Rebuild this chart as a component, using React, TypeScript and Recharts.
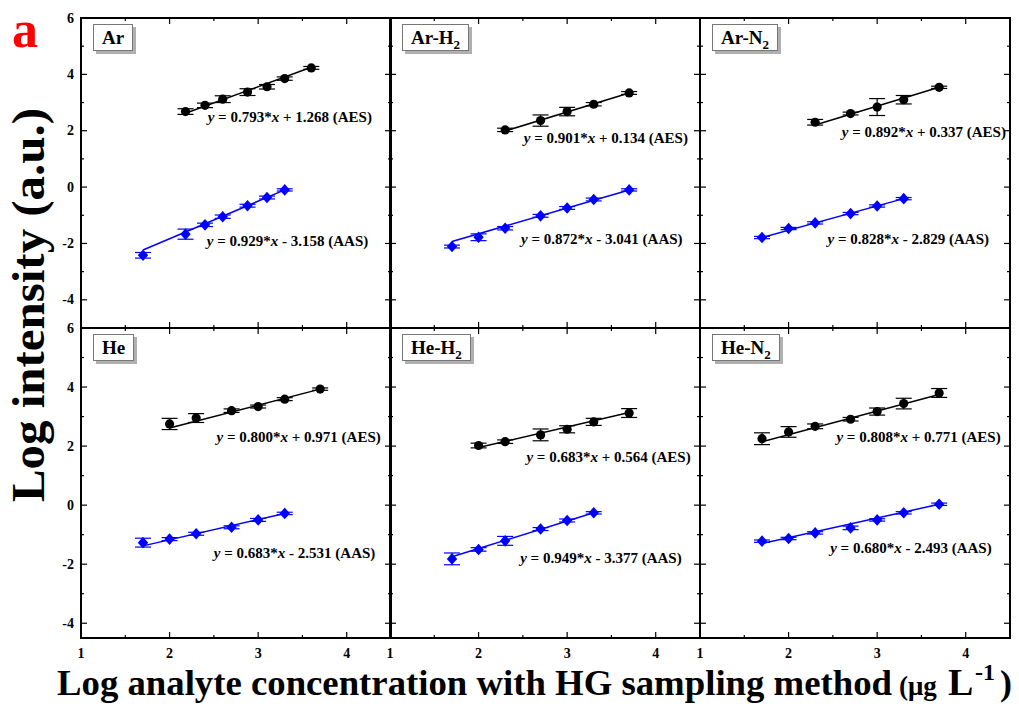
import React from 'react'
import { ComposedChart, Scatter, Line, XAxis, YAxis, ErrorBar, ReferenceArea, ReferenceDot } from 'recharts'

const FONT = '"Liberation Serif", "Times New Roman", serif'
const BLUE = '#0000ff'

// tick values
const xTicks = [1, 1.5, 2, 2.5, 3, 3.5, 4, 4.5]
const yTicksTop = [-5, -4, -3, -2, -1, 0, 1, 2, 3, 4, 5, 6]
const yTicksBottom = [-4, -3, -2, -1, 0, 1, 2, 3, 4, 5, 6]
const xDomain = [1, 4.5]
const yDomainTop = [-5, 6]
const yDomainBottom = [-4.5, 6]

// [log conc, log intensity, error]
const arAes = [[2.18, 2.68, 0.1], [2.4, 2.9, 0.08], [2.6, 3.12, 0.12], [2.88, 3.37, 0.12], [3.1, 3.56, 0.08], [3.3, 3.85, 0.06], [3.6, 4.23, 0.05]]
const arAas = [[1.7, -2.42, 0.1], [2.18, -1.67, 0.18], [2.4, -1.34, 0.06], [2.6, -1.05, 0.06], [2.88, -0.66, 0.05], [3.1, -0.37, 0.05], [3.3, -0.1, 0.04]]
const arAesFit = [[2.18, 2.62], [3.6, 4.25]]
const arAasFit = [[1.7, -2.23], [3.3, -0.1]]

const arH2Aes = [[2.3, 2.03, 0.06], [2.7, 2.36, 0.2], [3.0, 2.68, 0.15], [3.3, 2.94, 0.06], [3.7, 3.34, 0.05]]
const arH2Aas = [[1.7, -2.11, 0.05], [2.0, -1.78, 0.12], [2.3, -1.46, 0.06], [2.7, -1.02, 0.05], [3.0, -0.74, 0.05], [3.3, -0.44, 0.05], [3.7, -0.1, 0.04]]
const arH2AesFit = [[2.3, 1.99], [3.7, 3.34]]
const arH2AasFit = [[1.7, -1.93], [3.7, -0.1]]

const arN2Aes = [[2.3, 2.3, 0.1], [2.7, 2.61, 0.05], [3.0, 2.84, 0.3], [3.3, 3.1, 0.15], [3.7, 3.54, 0.04]]
const arN2Aas = [[1.7, -1.79, 0.04], [2.0, -1.47, 0.04], [2.3, -1.27, 0.04], [2.7, -0.94, 0.04], [3.0, -0.67, 0.04], [3.3, -0.41, 0.04]]
const arN2AesFit = [[2.3, 2.2], [3.7, 3.54]]
const arN2AasFit = [[1.7, -1.79], [3.3, -0.41]]

const heAes = [[2.0, 2.75, 0.19], [2.3, 2.95, 0.15], [2.7, 3.2, 0.06], [3.0, 3.34, 0.05], [3.3, 3.59, 0.05], [3.7, 3.93, 0.04]]
const heAas = [[1.7, -1.27, 0.15], [2.0, -1.15, 0.05], [2.3, -0.97, 0.05], [2.7, -0.75, 0.05], [3.0, -0.5, 0.05], [3.3, -0.28, 0.04]]
const heAesFit = [[2.0, 2.61], [3.7, 3.93]]
const heAasFit = [[1.7, -1.38], [3.3, -0.28]]

const heH2Aes = [[2.0, 2.02, 0.08], [2.3, 2.15, 0.06], [2.7, 2.38, 0.2], [3.0, 2.57, 0.12], [3.3, 2.82, 0.12], [3.7, 3.12, 0.15]]
const heH2Aas = [[1.7, -1.82, 0.2], [2.0, -1.5, 0.06], [2.3, -1.21, 0.15], [2.7, -0.81, 0.05], [3.0, -0.52, 0.05], [3.3, -0.26, 0.04]]
const heH2AesFit = [[2.0, 1.95], [3.7, 3.14]]
const heH2AasFit = [[1.7, -1.75], [3.3, -0.26]]

const heN2Aes = [[1.7, 2.25, 0.2], [2.0, 2.48, 0.18], [2.3, 2.67, 0.08], [2.7, 2.91, 0.06], [3.0, 3.17, 0.12], [3.3, 3.44, 0.18], [3.7, 3.8, 0.15]]
const heN2Aas = [[1.7, -1.22, 0.04], [2.0, -1.13, 0.04], [2.3, -0.94, 0.04], [2.7, -0.77, 0.06], [3.0, -0.5, 0.04], [3.3, -0.26, 0.04], [3.7, 0.03, 0.04]]
const heN2AesFit = [[1.7, 2.15], [3.7, 3.75]]
const heN2AasFit = [[1.7, -1.3], [3.7, 0.03]]

// regression equations: [AES slope, AES intercept, AAS slope, AAS intercept]
const arEq = ['0.793', '+ 1.268', '0.929', '- 3.158']
const arH2Eq = ['0.901', '+ 0.134', '0.872', '- 3.041']
const arN2Eq = ['0.892', '+ 0.337', '0.828', '- 2.829']
const heEq = ['0.800', '+ 0.971', '0.683', '- 2.531']
const heH2Eq = ['0.683', '+ 0.564', '0.949', '- 3.377']
const heN2Eq = ['0.808', '+ 0.771', '0.680', '- 2.493']

const panelGas = ['Ar', 'Ar-H', 'Ar-N', 'He', 'He-H', 'He-N']
const panelSub = ['', '2', '2', '', '2', '2']

// layout
const COL_LEFT = [81, 390, 700]
const ROW_TOP = [18, 328]
const PW = 310
const PH = 310
const AXW = 60
const TOPM = 14
// where the equation text starts, in data units
const eqAnchors = [
  [[2.43, 2.49], [2.42, -1.9]],
  [[2.51, 1.73], [2.48, -1.85]],
  [[2.6, 1.97], [2.44, -1.85]],
  [[2.53, 2.32], [2.5, -1.61]],
  [[2.54, 1.64], [2.47, -1.8]],
  [[2.54, 2.32], [2.47, -1.44]],
]

const pts = (a: number[][]) => a.map(([x, y, err]) => ({ x, y, err: err ?? 0 }))

const panels = [
  { aes: arAes, aas: arAas, aesFit: arAesFit, aasFit: arAasFit, eq: arEq },
  { aes: arH2Aes, aas: arH2Aas, aesFit: arH2AesFit, aasFit: arH2AasFit, eq: arH2Eq },
  { aes: arN2Aes, aas: arN2Aas, aesFit: arN2AesFit, aasFit: arN2AasFit, eq: arN2Eq },
  { aes: heAes, aas: heAas, aesFit: heAesFit, aasFit: heAasFit, eq: heEq },
  { aes: heH2Aes, aas: heH2Aas, aesFit: heH2AesFit, aasFit: heH2AasFit, eq: heH2Eq },
  { aes: heN2Aes, aas: heN2Aas, aesFit: heN2AesFit, aasFit: heN2AasFit, eq: heN2Eq },
]

const Circle = (p: any) => <circle cx={p.cx} cy={p.cy} r={4.6} fill="#000" />
const Diamond = (p: any) => (
  <polygon
    points={`${p.cx},${p.cy - 5.8} ${p.cx + 5.2},${p.cy} ${p.cx},${p.cy + 5.8} ${p.cx - 5.2},${p.cy}`}
    fill={BLUE}
  />
)

const XTick = (p: any) => {
  const v = p.payload.value
  const major = Number.isInteger(v)
  const len = major ? 6 : 3
  return (
    <g>
      <line x1={p.x} y1={p.y} x2={p.x} y2={p.y - len} stroke="#000" strokeWidth={1.2} />
      <line x1={p.x} y1={p.y - PH} x2={p.x} y2={p.y - PH + len} stroke="#000" strokeWidth={1.2} />
      {p.showLabel && major && (
        <text x={p.x} y={p.y + 15} textAnchor="middle" dominantBaseline="central"
          fontFamily={FONT} fontWeight="bold" fontSize={14} fill="#000">{v}</text>
      )}
    </g>
  )
}

const YTick = (p: any) => {
  const v = p.payload.value
  const major = v % 2 === 0
  const len = major ? 6 : 3
  return (
    <g>
      <line x1={p.x} y1={p.y} x2={p.x + len} y2={p.y} stroke="#000" strokeWidth={1.2} />
      <line x1={p.x + PW} y1={p.y} x2={p.x + PW - len} y2={p.y} stroke="#000" strokeWidth={1.2} />
      {p.showLabel && major && (
        <text x={p.x - 7} y={p.y} textAnchor="end" dominantBaseline="central"
          fontFamily={FONT} fontWeight="bold" fontSize={14} fill="#000">{v}</text>
      )}
    </g>
  )
}

const EqLabel = ({ cx, cy, slope, icpt, kind }: any) => (
  <text x={cx} y={cy} dominantBaseline="central" fontFamily={FONT} fontWeight="bold" fontSize={15} fill="#000">
    <tspan fontStyle="italic">y</tspan> = {slope}*<tspan fontStyle="italic">x</tspan> {icpt} ({kind})
  </text>
)

const Panel = ({ idx }: { idx: number }) => {
  const row = Math.floor(idx / 3)
  const col = idx % 3
  const p = panels[idx]
  const yDomain = row === 0 ? yDomainTop : yDomainBottom
  const yTicks = row === 0 ? yTicksTop : yTicksBottom
  const aesFit = p.aesFit.map(([x, y]) => ({ x, y }))
  const aasFit = p.aasFit.map(([x, y]) => ({ x, y }))
  const [aesAnchor, aasAnchor] = eqAnchors[idx]
  return (
    <div style={{ position: 'absolute', left: COL_LEFT[col] - AXW, top: ROW_TOP[row] - TOPM }}>
      <ComposedChart width={AXW + PW + 4} height={TOPM + PH + 32} margin={{ top: TOPM, right: 4, bottom: 0, left: 0 }}>
        <XAxis dataKey="x" type="number" domain={xDomain} ticks={xTicks} interval={0} allowDataOverflow
          height={32} axisLine={false} tickLine={false} tickSize={0} tickMargin={0}
          tick={(t: any) => <XTick {...t} showLabel={row === 1} />} />
        <YAxis dataKey="y" type="number" domain={yDomain} ticks={yTicks} interval={0} allowDataOverflow
          width={AXW} axisLine={false} tickLine={false} tickSize={0} tickMargin={0}
          tick={(t: any) => <YTick {...t} showLabel={col === 0} />} />
        <ReferenceArea x1={xDomain[0]} x2={xDomain[1]} y1={yDomain[0]} y2={yDomain[1]}
          fill="none" stroke="#000" strokeWidth={2} fillOpacity={0} />
        <Line data={aesFit} dataKey="y" stroke="#000" strokeWidth={1.5} dot={false} isAnimationActive={false} />
        <Line data={aasFit} dataKey="y" stroke={BLUE} strokeWidth={1.5} dot={false} isAnimationActive={false} />
        <Scatter data={pts(p.aes)} dataKey="y" shape={Circle} isAnimationActive={false}>
          <ErrorBar dataKey="err" direction="y" width={8} stroke="#000" strokeWidth={1.2} isAnimationActive={false} />
        </Scatter>
        <Scatter data={pts(p.aas)} dataKey="y" shape={Diamond} isAnimationActive={false}>
          <ErrorBar dataKey="err" direction="y" width={8} stroke={BLUE} strokeWidth={1.2} isAnimationActive={false} />
        </Scatter>
        <ReferenceDot x={aesAnchor[0]} y={aesAnchor[1]}
          shape={(s: any) => <EqLabel cx={s.cx} cy={s.cy} slope={p.eq[0]} icpt={p.eq[1]} kind="AES" />} />
        <ReferenceDot x={aasAnchor[0]} y={aasAnchor[1]}
          shape={(s: any) => <EqLabel cx={s.cx} cy={s.cy} slope={p.eq[2]} icpt={p.eq[3]} kind="AAS" />} />
      </ComposedChart>
    </div>
  )
}

const NameBox = ({ idx }: { idx: number }) => {
  const row = Math.floor(idx / 3)
  const col = idx % 3
  return (
    <div style={{
      position: 'absolute', left: COL_LEFT[col] + 12, top: ROW_TOP[row] + 6, height: 25,
      padding: '0 8px', border: '1px solid #777', boxShadow: '3px 3px 0 #b0b0b0', background: '#fff',
      fontFamily: FONT, fontWeight: 'bold', fontSize: 19, lineHeight: '25px', color: '#000', whiteSpace: 'nowrap',
    }}>
      {panelGas[idx]}
      {panelSub[idx] && (
        <span style={{ fontSize: 13, position: 'relative', top: 5 }}>{panelSub[idx]}</span>
      )}
    </div>
  )
}

export default function App() {
  return (
    <div style={{ position: 'absolute', left: 0, top: 0, width: 1019, height: 707, background: '#fff', overflow: 'hidden' }}>
      <svg width={1019} height={707} style={{ position: 'absolute', left: 0, top: 0 }}>
        <text x={12} y={47} fontFamily={FONT} fontWeight="bold" fontSize={52} fill="#f00">a</text>
        <text transform="translate(44,305) rotate(-90)" textAnchor="middle" fontFamily={FONT} fontWeight="bold"
          fontSize={46} textLength={394} lengthAdjust="spacingAndGlyphs" fill="#000">Log intensity (a.u.)</text>
        <g fontFamily={FONT} fontWeight="bold" fill="#000">
          <text x={57} y={695} fontSize={36.5} textLength={835} lengthAdjust="spacingAndGlyphs">
            Log analyte concentration with HG sampling method
          </text>
          <text x={899} y={695} fontSize={27}>(μg</text>
          <text x={948} y={695} fontSize={38}>L</text>
          <text x={975} y={680} fontSize={24}>-1</text>
          <text x={1000} y={695} fontSize={36}>)</text>
        </g>
      </svg>
      {panels.map((_, i) => <Panel key={i} idx={i} />)}
      {panels.map((_, i) => <NameBox key={'n' + i} idx={i} />)}
    </div>
  )
}
